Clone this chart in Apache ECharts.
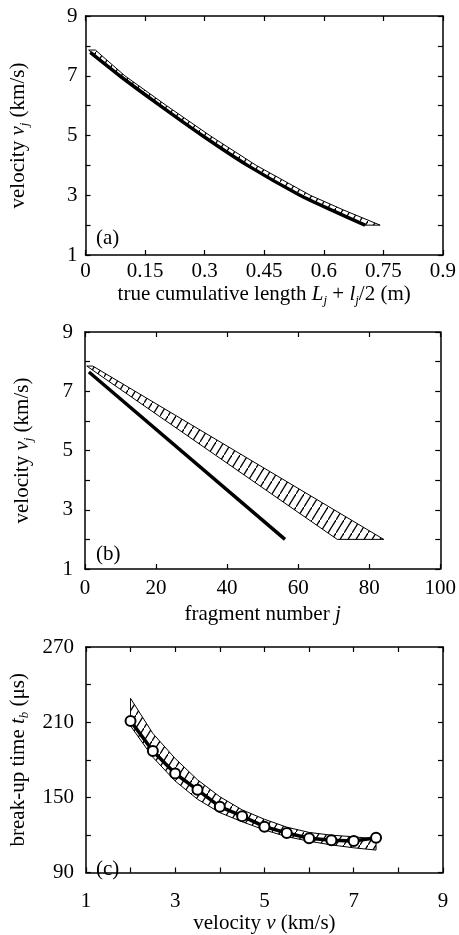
<!DOCTYPE html>
<html>
<head>
<meta charset="utf-8">
<script src="https://cdn.jsdelivr.net/npm/echarts@6/dist/echarts.min.js"></script>
<style>
html, body { margin: 0; padding: 0; background: #fff; }
#main { width: 459px; height: 935px; }
</style>
</head>
<body>
<div id="main"></div>
<script>
// panel (a): velocity vs true cumulative length
var aLineL = [0.012, 0.086, 0.188, 0.294, 0.408, 0.54, 0.62, 0.704];
var aLineV = [7.78, 7, 6, 5, 4, 3, 2.5, 2];
var aBandV = [7.86, 7, 6, 5, 4, 3, 2.5, 2];
var aBandLow = [0.008, 0.083, 0.185, 0.29, 0.404, 0.536, 0.616, 0.70];
var aBandHigh = [0.025, 0.099, 0.204, 0.313, 0.43, 0.566, 0.651, 0.742];

// panel (b): velocity vs fragment number
var bLineJ = [1.1, 56.3];
var bLineV = [7.65, 2.0];
var bBandV = [7.85, 2.0];
var bBandLeft = [0.5, 71.0];
var bBandRight = [2.2, 84.1];

// panel (c): break-up time vs velocity
var cV = [2, 2.5, 3, 3.5, 4, 4.5, 5, 5.5, 6, 6.5, 7, 7.5];
var cT = [211, 187, 169, 156, 142.5, 135, 126.6, 121.5, 117.3, 115.8, 115.2, 117.7];
var cBandLow = [207, 182, 163, 148.5, 137.8, 130.5, 124, 118.6, 115, 112, 109.7, 107.9];
var cBandHigh = [229, 201, 181, 164, 150.5, 140, 132.5, 126.2, 122, 119.8, 118.5, 116.8];

var FONT = "'Liberation Serif', 'Times New Roman', serif";
var FS = 21;

function hatchCanvas() {
	var c = document.createElement('canvas');
	c.width = 8;
	c.height = 13;
	var g = c.getContext('2d');
	g.strokeStyle = '#000';
	g.lineWidth = 1.3;
	g.beginPath();
	g.moveTo(0, 13);
	g.lineTo(8, 0);
	g.stroke();
	return c;
}
var hatchFill = { image: hatchCanvas(), repeat: 'repeat' };

var rich = {
	n: { fontFamily: FONT, fontSize: FS, color: '#000', lineHeight: 26 },
	i: { fontFamily: FONT, fontSize: FS, fontStyle: 'italic', color: '#000', lineHeight: 26 },
	s: { fontFamily: FONT, fontSize: 13, fontStyle: 'italic', color: '#000', lineHeight: 13, verticalAlign: 'bottom' }
};

function zip(xs, ys) {
	var out = [];
	for (var i = 0; i < xs.length; i++) out.push([xs[i], ys[i]]);
	return out;
}

function bandSeries(xi, yi, pts) {
	return {
		type: 'custom',
		xAxisIndex: xi,
		yAxisIndex: yi,
		silent: true,
		z: 1,
		data: pts,
		renderItem: function (params, api) {
			if (params.dataIndex !== 0) return null;
			var p = pts.map(function (d) { return api.coord(d); });
			return {
				type: 'polygon',
				shape: { points: p },
				style: { fill: hatchFill, stroke: '#000', lineWidth: 1 }
			};
		}
	};
}

function tickStyle() {
	return { show: true, inside: true, length: 5, lineStyle: { color: '#000', width: 1.2 } };
}
var lineStyle = { show: true, onZero: false, lineStyle: { color: '#000', width: 1.5 } };

function xAxes(grid, min, max, step, fmt, name, margin, gap) {
	return [{
		type: 'value', gridIndex: grid, min: min, max: max, interval: step,
		axisLine: lineStyle, axisTick: tickStyle(), splitLine: { show: false },
		axisLabel: { color: '#000', fontFamily: FONT, fontSize: FS, margin: margin, formatter: fmt },
		name: name, nameLocation: 'middle', nameGap: gap,
		nameTextStyle: { rich: rich }
	}, {
		type: 'value', gridIndex: grid, position: 'top', min: min, max: max, interval: step,
		axisLine: lineStyle, axisTick: tickStyle(), splitLine: { show: false },
		axisLabel: { show: false }
	}];
}

function yAxes(grid, min, max, step, fmt, name, margin, gap) {
	return [{
		type: 'value', gridIndex: grid, min: min, max: max, interval: step,
		axisLine: lineStyle, axisTick: tickStyle(), splitLine: { show: false },
		axisLabel: { color: '#000', fontFamily: FONT, fontSize: FS, margin: margin, formatter: fmt },
		name: name, nameLocation: 'middle', nameGap: gap,
		nameTextStyle: { rich: rich }
	}, {
		type: 'value', gridIndex: grid, position: 'right', min: min, max: max, interval: step,
		axisLine: lineStyle, axisTick: tickStyle(), splitLine: { show: false },
		axisLabel: { show: false }
	}];
}

var oddOnly = function (v) { return Math.round(v) % 2 === 1 ? String(Math.round(v)) : ''; };
var velName = '{n|velocity }{i|v}{s|j}{n| (km/s)}';

var xs = [].concat(
	xAxes(0, 0, 0.9, 0.15, function (v) { return String(+v.toFixed(2)); },
		'{n|true cumulative length }{i|L}{s|j}{n| + }{i|l}{s|j}{n|/2 (m)}', 6, 26),
	xAxes(1, 0, 100, 20, null, '{n|fragment number }{i|j}', 9, 32),
	xAxes(2, 1, 9, 1, oddOnly, '{n|velocity }{i|v}{n| (km/s)}', 18, 38)
);
var ys = [].concat(
	yAxes(0, 1, 9, 1, oddOnly, velName, 8, 54),
	yAxes(1, 1, 9, 1, oddOnly, velName, 12, 50),
	yAxes(2, 90, 270, 30, function (v) { return (v - 90) % 60 === 0 ? String(v) : ''; },
		'{n|break-up time }{i|t}{s|b}{n| (μs)}', 12, 48)
);

var aBand = zip(aBandLow, aBandV).concat(zip(aBandHigh, aBandV).reverse());
var bBand = [[bBandLeft[0], bBandV[0]], [bBandRight[0], bBandV[0]], [bBandRight[1], bBandV[1]], [bBandLeft[1], bBandV[1]]];
var cBand = zip(cV, cBandLow).concat(zip(cV, cBandHigh).reverse());

var option = {
	animation: false,
	backgroundColor: '#fff',
	grid: [
		{ left: 84, top: 16, width: 359, height: 239 },
		{ left: 85, top: 332, width: 358, height: 237 },
		{ left: 85, top: 647, width: 358, height: 237 }
	],
	xAxis: xs,
	yAxis: ys,
	graphic: [
		{ type: 'text', left: 96, top: 228, style: { text: '(a)', font: FS + 'px ' + FONT, fill: '#000' } },
		{ type: 'text', left: 96, top: 544, style: { text: '(b)', font: FS + 'px ' + FONT, fill: '#000' } },
		{ type: 'text', left: 96, top: 859, style: { text: '(c)', font: FS + 'px ' + FONT, fill: '#000' } }
	],
	series: [
		bandSeries(0, 0, aBand),
		{
			type: 'line', xAxisIndex: 0, yAxisIndex: 0, data: zip(aLineL, aLineV), smooth: 0.2,
			showSymbol: false, lineStyle: { color: '#000', width: 3.5 }, z: 3
		},
		bandSeries(2, 2, bBand),
		{
			type: 'line', xAxisIndex: 2, yAxisIndex: 2, data: zip(bLineJ, bLineV),
			showSymbol: false, lineStyle: { color: '#000', width: 3.5 }, z: 3
		},
		bandSeries(4, 4, cBand),
		{
			type: 'line', xAxisIndex: 4, yAxisIndex: 4, data: zip(cV, cT),
			symbol: 'circle', symbolSize: 10, showSymbol: true,
			itemStyle: { color: '#fff', borderColor: '#000', borderWidth: 2 },
			lineStyle: { color: '#000', width: 3.5 }, z: 3
		}
	]
};

var chart = echarts.init(document.getElementById('main'));
chart.setOption(option);
</script>
</body>
</html>
